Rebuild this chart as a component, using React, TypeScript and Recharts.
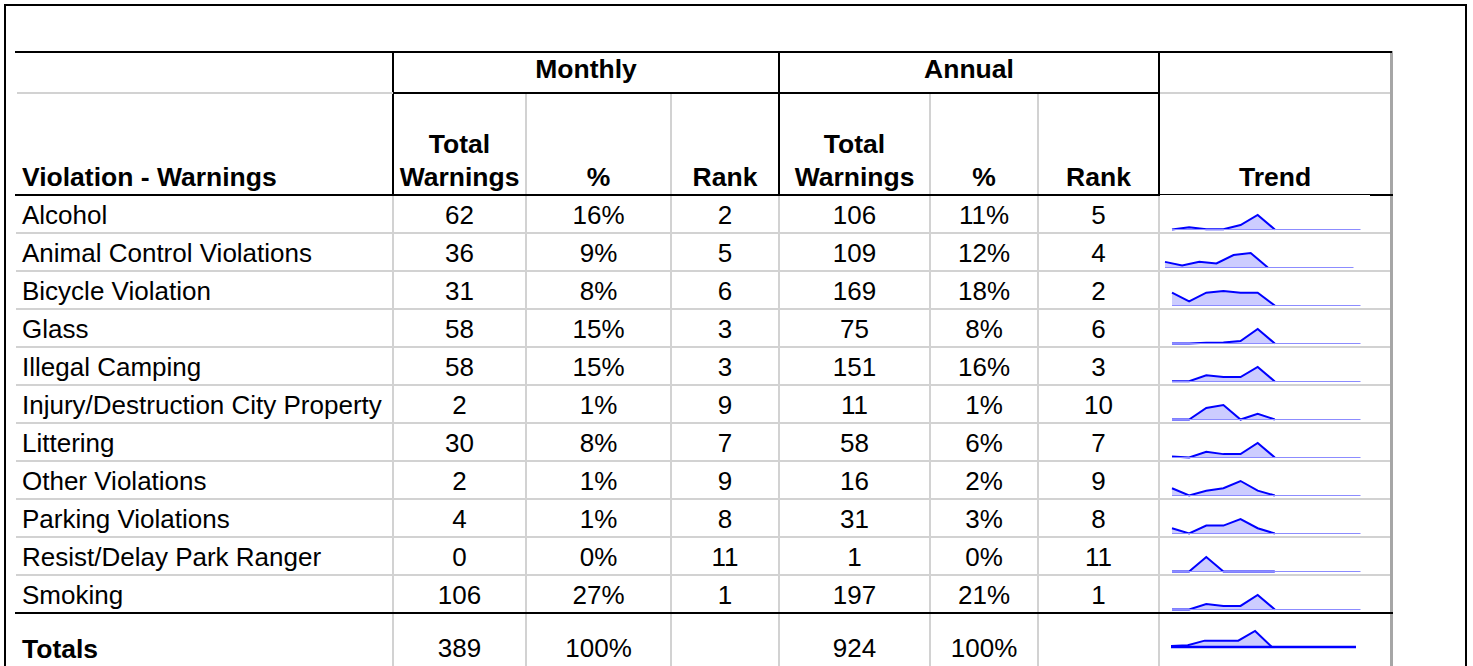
import React from 'react';
import { AreaChart, Area, XAxis, YAxis, ReferenceLine } from 'recharts';

const months = ['Jan', 'Feb', 'Mar', 'Apr', 'May', 'Jun', 'Jul', 'Aug', 'Sep', 'Oct', 'Nov', 'Dec'];

const categories = [
  'Alcohol',
  'Animal Control Violations',
  'Bicycle Violation',
  'Glass',
  'Illegal Camping',
  'Injury/Destruction City Property',
  'Littering',
  'Other Violations',
  'Parking Violations',
  'Resist/Delay Park Ranger',
  'Smoking',
];

const monthlyTotals = [62, 36, 31, 58, 58, 2, 30, 2, 4, 0, 106];
const monthlyPct = ['16%', '9%', '8%', '15%', '15%', '1%', '8%', '1%', '1%', '0%', '27%'];
const monthlyRank = [2, 5, 6, 3, 3, 9, 7, 9, 8, 11, 1];
const annualTotals = [106, 109, 169, 75, 151, 11, 58, 16, 31, 1, 197];
const annualPct = ['11%', '12%', '18%', '8%', '16%', '1%', '6%', '2%', '3%', '0%', '21%'];
const annualRank = [5, 4, 2, 6, 3, 10, 7, 9, 8, 11, 1];

const totalsRow = ['389', '100%', '', '924', '100%', ''];

// monthly counts behind the trend sparklines (later months not reported yet)
const alcoholTrend = [0, 10, 1, 1, 19, 62, 0];
const animalTrend = [14, 5, 14, 10, 31, 36, 0];
const bicycleTrend = [31, 10, 31, 35, 31, 31, 0];
const glassTrend = [0, 0, 3, 4, 10, 58, 0];
const campingTrend = [1, 1, 25, 18, 18, 58, 0];
const injuryTrend = [0, 0, 4, 5, 0, 2, 0];
const litteringTrend = [2, 0, 12, 7, 7, 30, 0];
const otherTrend = [3, 0, 2, 3, 6, 2, 0];
const parkingTrend = [4, 0, 6, 6, 11, 4, 0];
const resistTrend = [0, 0, 1, 0, 0, 0, 0];
const smokingTrend = [0, 0, 40, 25, 26, 106, 0];
const totalsTrend = [27, 43, 155, 155, 155, 389, 0, 0, 0, 0, 0, 0];

const trends = [
  alcoholTrend, animalTrend, bicycleTrend, glassTrend, campingTrend, injuryTrend,
  litteringTrend, otherTrend, parkingTrend, resistTrend, smokingTrend,
];

const FONT = '"Liberation Sans", Arial, Helvetica, sans-serif';
const FS = 26;
const FS_BOLD = 26.5;
const ROW_TOP = 195;
const ROW_H = 38;
const colCenters = [459.5, 598.5, 725, 854.5, 984, 1098.5];
const GRAY = '#d2d2d2';

// the animal control sparkline sits a bit left in the original sheet
const sparkShift = [0, -6.5, 0, 0, 0, 0, 0, 0, 0, 0, 0];

function Sparkline({ values, left, top, width, plotH, isTotal }) {
  const data = months.map((m, i) => ({ month: m, value: i < values.length ? values[i] : null }));
  const mTop = 4;
  const mBottom = 4;
  return (
    <div style={{ position: 'absolute', left: left - 4, top: top - mTop - plotH }}>
      <AreaChart
        width={width + 8}
        height={plotH + mTop + mBottom}
        data={data}
        margin={{ top: mTop, right: 4, bottom: mBottom, left: 4 }}
      >
        <XAxis dataKey="month" hide />
        <YAxis hide domain={[0, 'dataMax']} />
        <Area
          type="linear"
          dataKey="value"
          stroke="#0000ff"
          strokeWidth={2}
          fill="#ccccff"
          fillOpacity={1}
          dot={false}
          activeDot={false}
          isAnimationActive={false}
        />
        <ReferenceLine
          y={0}
          stroke={isTotal ? '#0000ff' : '#8c8cff'}
          strokeWidth={isTotal ? 2.5 : 1.2}
        />
      </AreaChart>
    </div>
  );
}

function HLine({ x1, x2, y, color = '#000', w = 2 }) {
  return <line x1={x1} x2={x2} y1={y} y2={y} stroke={color} strokeWidth={w} />;
}

function VLine({ x, y1, y2, color = '#000', w = 2 }) {
  return <line x1={x} x2={x} y1={y1} y2={y2} stroke={color} strokeWidth={w} />;
}

export default function App() {
  const rowTops = categories.map((_, i) => ROW_TOP + i * ROW_H);
  const totalsTop = ROW_TOP + categories.length * ROW_H;

  return (
    <div style={{ position: 'absolute', left: 0, top: 0, width: 1473, height: 666, background: '#fff', overflow: 'hidden' }}>
      <svg width={1473} height={666} style={{ position: 'absolute', left: 0, top: 0 }} fontFamily={FONT}>
        {/* sub-column dividers */}
        {[526, 671, 930, 1038].map((x) => (
          <VLine key={x} x={x} y1={93} y2={666} color={GRAY} />
        ))}
        {[393, 779, 1159].map((x) => (
          <g key={x}>
            <VLine x={x} y1={195} y2={666} color={GRAY} />
            <VLine x={x} y1={51} y2={195} />
          </g>
        ))}
        <VLine x={1391.5} y1={51} y2={666} color="#a6a6a6" w={3} />

        {/* row separators */}
        {rowTops.slice(1).map((y) => (
          <HLine key={y} x1={16} x2={1390} y={y} color={GRAY} />
        ))}

        {/* header lines */}
        <HLine x1={15} x2={1392} y={52} />
        <HLine x1={17} x2={393} y={93} color={GRAY} />
        <HLine x1={1159} x2={1390} y={93} color={GRAY} />
        <HLine x1={393} x2={1160} y={93} />
        <HLine x1={15} x2={1160} y={195} />
        <HLine x1={1159} x2={1370} y={194.5} w={1} />
        <HLine x1={1370} x2={1393} y={195} />
        <HLine x1={15} x2={1393} y={totalsTop} />

        {/* outer frame */}
        <rect x={5} y={5} width={1461} height={720} fill="none" stroke="#000" strokeWidth={2} />

        {/* header text */}
        <g fontWeight="bold" fontSize={FS_BOLD} fill="#000">
          <text x={586} y={78} textAnchor="middle">Monthly</text>
          <text x={969} y={78} textAnchor="middle">Annual</text>
          <text x={22} y={186}>Violation - Warnings</text>
          {[0, 3].map((c) => (
            <g key={c}>
              <text x={colCenters[c]} y={153} textAnchor="middle">Total</text>
              <text x={colCenters[c]} y={186} textAnchor="middle">Warnings</text>
              <text x={colCenters[c + 1]} y={186} textAnchor="middle">%</text>
              <text x={colCenters[c + 2]} y={186} textAnchor="middle">Rank</text>
            </g>
          ))}
          <text x={1275} y={186} textAnchor="middle">Trend</text>
        </g>

        {/* body text */}
        <g fontSize={FS} fill="#000">
          {categories.map((name, i) => {
            const y = rowTops[i] + 29;
            const cells = [monthlyTotals[i], monthlyPct[i], monthlyRank[i], annualTotals[i], annualPct[i], annualRank[i]];
            return (
              <g key={name}>
                <text x={22} y={y}>{name}</text>
                {cells.map((v, c) => (
                  <text key={c} x={colCenters[c]} y={y} textAnchor="middle">{v}</text>
                ))}
              </g>
            );
          })}
          <text x={22} y={totalsTop + 45} fontWeight="bold" fontSize={FS_BOLD}>Totals</text>
          {totalsRow.map((v, c) => (
            <text key={c} x={colCenters[c]} y={totalsTop + 44} textAnchor="middle">{v}</text>
          ))}
        </g>
      </svg>

      {trends.map((values, i) => (
        <Sparkline
          key={i}
          values={values}
          left={1171.5 + sparkShift[i]}
          top={rowTops[i] + 34.3}
          width={188.5}
          plotH={14.5}
          isTotal={false}
        />
      ))}
      <Sparkline values={totalsTrend} left={1170.7} top={totalsTop + 33.7} width={185} plotH={16} isTotal />
    </div>
  );
}
